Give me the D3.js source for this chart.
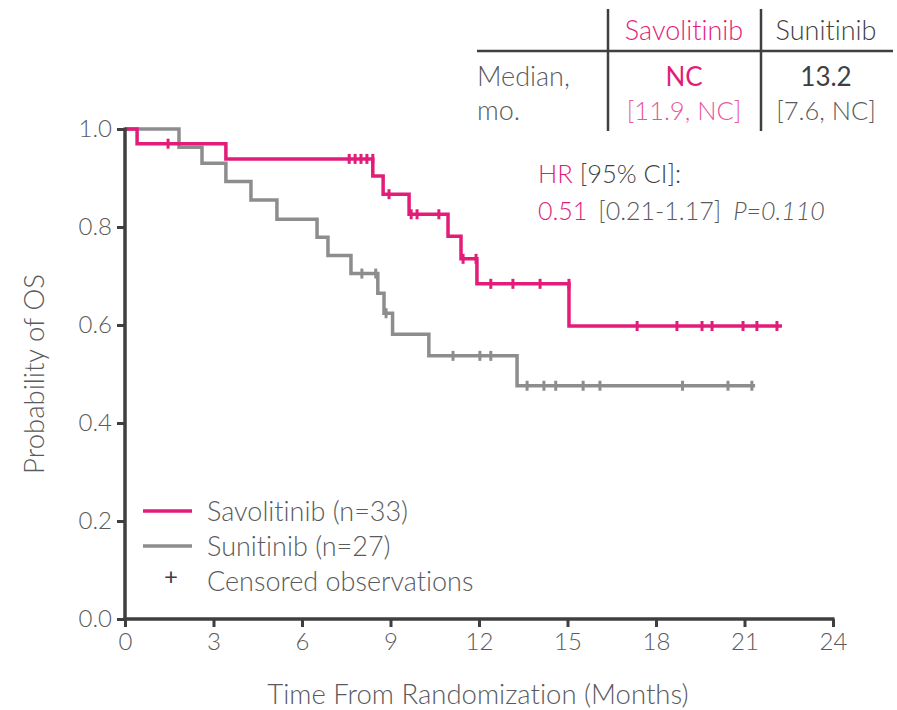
<!DOCTYPE html>
<html>
<head>
<meta charset="utf-8">
<script src="https://cdn.jsdelivr.net/npm/d3@7"></script>
<style>
  body { margin: 0; background: #fff; }
  svg text { font-family: Lato, "Open Sans", sans-serif; font-weight: 300; font-variant-ligatures: none; }
</style>
</head>
<body>
<div id="chart"></div>
<script>
// Kaplan-Meier OS
const savoEventTimes = [0.41, 3.42, 8.4, 8.75, 9.63, 10.95, 11.39, 11.93, 15.05];
const savoSurv = [0.970, 0.939, 0.904, 0.867, 0.826, 0.781, 0.735, 0.684, 0.598];
const savoCensor = [1.46, 7.6, 7.8, 8.0, 8.2, 8.4, 8.95, 9.7, 9.9, 10.64, 11.46, 11.9, 12.4, 13.15, 14.07, 15.05, 17.36, 18.71, 19.56, 19.9, 20.95, 21.42, 22.1];
const savoEnd = 22.27;

const sunEventTimes = [1.83, 2.61, 3.42, 4.27, 5.15, 6.51, 6.88, 7.66, 8.57, 8.78, 9.07, 10.3, 13.29];
const sunSurv = [0.963, 0.93, 0.893, 0.855, 0.816, 0.779, 0.742, 0.705, 0.665, 0.624, 0.581, 0.537, 0.476];
const sunCensor = [8.03, 8.5, 8.85, 11.12, 12.03, 12.4, 13.63, 14.2, 14.6, 15.53, 16.1, 18.9, 20.44, 21.25];
const sunEnd = 21.36;

const xTicks = [0, 3, 6, 9, 12, 15, 18, 21, 24];
const yTicks = [0, 0.2, 0.4, 0.6, 0.8, 1.0];

const legendLabels = ['Savolitinib (n=33)', 'Sunitinib (n=27)', 'Censored observations'];

const pink = '#e31c79';
const pinkLight = '#e8579a';
const grey = '#8d8d90';
const dark = '#3f3f41';
const textGrey = '#5a5a5c';

const width = 897, height = 710;
const svg = d3.select('#chart').append('svg')
  .attr('width', width)
  .attr('height', height);

const x = d3.scaleLinear().domain([0, 24]).range([125, 833]);
const y = d3.scaleLinear().domain([0, 1]).range([619, 129]);

function stepPoints(times, surv, end) {
  let pts = [[0, 1]];
  times.forEach((t, i) => pts.push([t, surv[i]]));
  pts.push([end, surv[surv.length - 1]]);
  return pts;
}
function survAt(times, surv, t) {
  let s = 1;
  times.forEach((e, i) => { if (e < t) s = surv[i]; });
  return s;
}

const line = d3.line()
  .x(d => x(d[0]))
  .y(d => y(d[1]))
  .curve(d3.curveStepAfter);

// curves
const series = [
  { times: sunEventTimes, surv: sunSurv, censor: sunCensor, end: sunEnd, color: grey },
  { times: savoEventTimes, surv: savoSurv, censor: savoCensor, end: savoEnd, color: pink }
];

series.forEach(s => {
  svg.append('path')
    .attr('d', line(stepPoints(s.times, s.surv, s.end)))
    .attr('fill', 'none')
    .attr('stroke', s.color)
    .attr('stroke-width', 3.5);
  svg.append('g').selectAll('line')
    .data(s.censor)
    .enter().append('line')
    .attr('x1', d => x(d)).attr('x2', d => x(d))
    .attr('y1', d => y(survAt(s.times, s.surv, d)) - 5)
    .attr('y2', d => y(survAt(s.times, s.surv, d)) + 5)
    .attr('stroke', s.color)
    .attr('stroke-width', 3);
});

// axes
const xAxis = svg.append('g')
  .attr('transform', `translate(0,${y(0)})`)
  .call(d3.axisBottom(x).tickValues(xTicks).tickSize(8).tickSizeOuter(0).tickPadding(6));
const yAxis = svg.append('g')
  .attr('transform', `translate(${x(0)},0)`)
  .call(d3.axisLeft(y).tickValues(yTicks).tickFormat(d3.format('.1f')).tickSize(8).tickSizeOuter(0).tickPadding(5));

[xAxis, yAxis].forEach(a => {
  a.select('.domain').attr('stroke', dark).attr('stroke-width', 3.5);
  a.selectAll('.tick line').attr('stroke', dark).attr('stroke-width', 3);
  a.selectAll('.tick text').attr('fill', textGrey).style('font-size', '24px');
});
xAxis.select('.domain').attr('d', `M${x(0) - 1.5},0H${x(24) + 1.5}`);
yAxis.select('.domain').attr('d', `M0,${y(1) - 1.5}V${y(0) + 1.5}`);

svg.append('text')
  .attr('x', 478).attr('y', 704)
  .attr('text-anchor', 'middle')
  .attr('fill', textGrey)
  .style('font-size', '27.5px')
  .text('Time From Randomization (Months)');

svg.append('text')
  .attr('transform', 'translate(44,374) rotate(-90)')
  .attr('text-anchor', 'middle')
  .attr('fill', textGrey)
  .style('font-size', '27.5px')
  .text('Probability of OS');

// legend
const legend = svg.append('g');
[pink, grey].forEach((c, i) => {
  legend.append('line')
    .attr('x1', 143).attr('x2', 192)
    .attr('y1', 511 + i * 35).attr('y2', 511 + i * 35)
    .attr('stroke', c).attr('stroke-width', 3.5);
});
legend.append('text')
  .attr('x', 171).attr('y', 585)
  .attr('text-anchor', 'middle')
  .attr('fill', dark)
  .style('font-size', '24px')
  .style('font-weight', 400)
  .text('+');
legendLabels.forEach((t, i) => {
  legend.append('text')
    .attr('x', 207).attr('y', 521 + i * 35)
    .attr('fill', textGrey)
    .style('font-size', '27px')
    .text(t);
});

// HR annotation
const hr1 = svg.append('text').attr('x', 538).attr('y', 183).style('font-size', '25.5px');
hr1.append('tspan').attr('fill', pink).text('HR ');
hr1.append('tspan').attr('fill', dark).text('[95% CI]:');
const hr2 = svg.append('text').attr('x', 538).attr('y', 220).style('font-size', '25px');
hr2.append('tspan').attr('fill', pink).text('0.51');
hr2.append('tspan').attr('fill', textGrey).attr('dx', 11).text('[0.21-1.17]');
hr2.append('tspan').attr('fill', textGrey).attr('dx', 12).style('font-style', 'italic').text('P=0.110');

// median table
const table = svg.append('g');
table.append('line').attr('x1', 477).attr('x2', 893).attr('y1', 51).attr('y2', 51)
  .attr('stroke', dark).attr('stroke-width', 2.5);
[608, 761].forEach(px => {
  table.append('line').attr('x1', px).attr('x2', px).attr('y1', 9).attr('y2', 131)
    .attr('stroke', dark).attr('stroke-width', 2.5);
});
const cells = [
  { t: 'Savolitinib', x: 684, y: 40, c: pink, a: 'middle', s: 27 },
  { t: 'Sunitinib', x: 826, y: 40, c: dark, a: 'middle', s: 27 },
  { t: 'Median,', x: 477, y: 86, c: textGrey, a: 'start', s: 27 },
  { t: 'mo.', x: 477, y: 120, c: textGrey, a: 'start', s: 27 },
  { t: 'NC', x: 684, y: 86, c: pink, a: 'middle', w: 400, s: 26 },
  { t: '[11.9, NC]', x: 684, y: 120, c: pinkLight, a: 'middle', s: 25.5 },
  { t: '13.2', x: 826, y: 86, c: dark, a: 'middle', w: 400, s: 26 },
  { t: '[7.6, NC]', x: 826, y: 120, c: textGrey, a: 'middle', s: 25.5 }
];
cells.forEach(d => {
  table.append('text')
    .attr('x', d.x).attr('y', d.y)
    .attr('text-anchor', d.a)
    .attr('fill', d.c)
    .style('font-size', d.s + 'px')
    .style('font-weight', d.w || 300)
    .text(d.t);
});
</script>
</body>
</html>
